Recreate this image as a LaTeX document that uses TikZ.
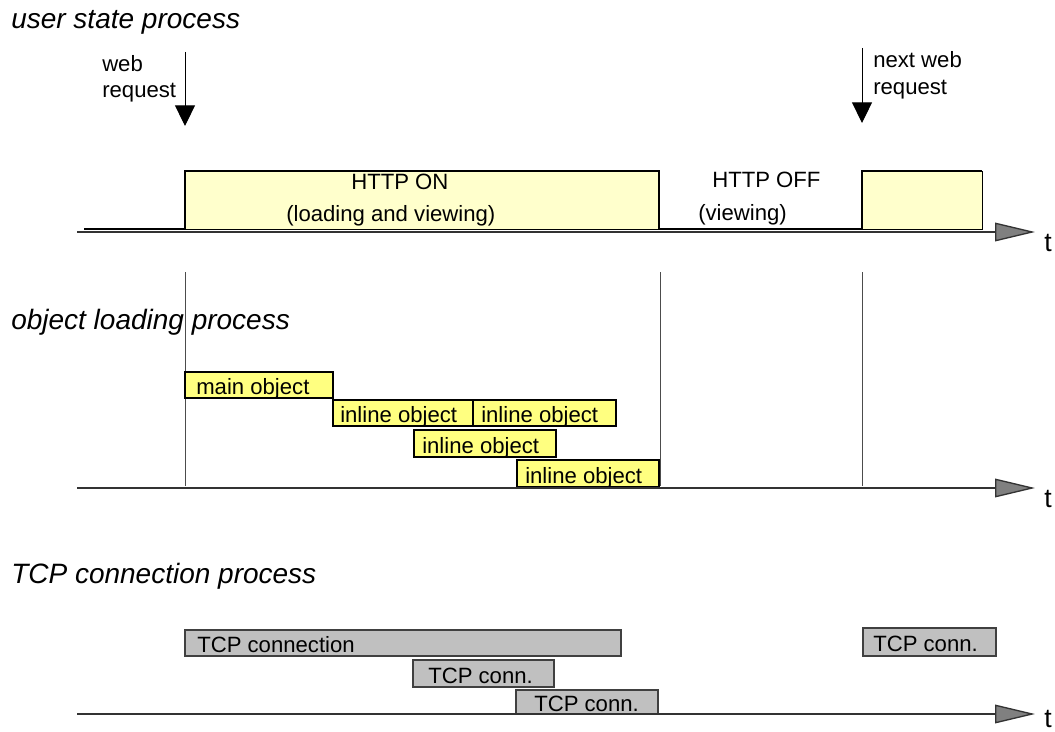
\documentclass[tikz,border=0pt]{standalone}
\usepackage{fontspec}
\setmainfont{Liberation Sans}
\usetikzlibrary{arrows.meta,fit}
\definecolor{httpfill}{HTML}{FFFFCC}
\definecolor{objfill}{HTML}{FFFF80}
\definecolor{tcpfill}{HTML}{C0C0C0}
\begin{document}
\begin{tikzpicture}[x=0.75pt,y=-0.75pt,
  lbl/.style={font=\fontsize{16.6}{20}\selectfont, inner sep=0, anchor=base west},
  tlbl/.style={font=\fontsize{20}{24}\selectfont, inner sep=0, anchor=base west},
  ttl/.style={font=\fontsize{21}{25}\selectfont\itshape, inner sep=0, anchor=base west},
  httpbox/.style={fill=httpfill, draw=black, line width=0.75pt, inner sep=0},
  signal/.style={line width=1.5pt, line join=miter},
  objbox/.style={fill=objfill, draw=black, line width=1.3pt, inner sep=0},
  tcpbox/.style={fill=tcpfill, draw=black!75, line width=0.9pt, inner sep=0},
  axisline/.style={line width=1pt, draw=black!80, -{Triangle[length=30pt, width=14pt, fill=black!50]}},
  reqarrow/.style={line width=0.75pt, -{Triangle[length=15.5pt, width=15pt]}},
  divider/.style={line width=0.75pt, draw=black!70}]
\useasboundingbox (0,0) rectangle (1055,731);

% ---------- user state process ----------
\node[ttl] (t1) at (11,29) {user state process};

\coordinate (r1top) at (185,52);
\coordinate (r1tip) at (185,126);
\draw[reqarrow] (r1top) -- (r1tip);
\node[lbl] (web1) at (102,72) {web};
\node[lbl] (req1) at (102,98) {request};

\coordinate (r2top) at (862,48);
\coordinate (r2tip) at (862,123);
\draw[reqarrow] (r2top) -- (r2tip);
\node[lbl] (web2) at (873,68) {next web};
\node[lbl] (req2) at (873,95) {request};

\node[httpbox, fit={(185,171) (659,229)}] (on) {};
\node[httpbox, fit={(862,171) (982,229)}] (next) {};
\draw[signal] (84,229) -- (185,229) -- (185,171) -- (659,171) -- (659,229)
  -- (862,229) -- (862,171) -- (982,171);

\node[lbl] (onA) at (351,189) {HTTP ON};
\node[lbl] (onB) at (286,221) {(loading and viewing)};
\node[lbl] (offA) at (712,187) {HTTP OFF};
\node[lbl] (offB) at (698,220) {(viewing)};

\coordinate (a1s) at (77,232);
\coordinate (a1e) at (1035,232);
\draw[axisline] (a1s) -- (a1e);
\node[tlbl] (tt1) at (1044,251) {t};

% dividers
\coordinate (d1a) at (185,272); \coordinate (d1b) at (185,486);
\coordinate (d2a) at (660,272); \coordinate (d2b) at (660,486);
\coordinate (d3a) at (862,272); \coordinate (d3b) at (862,486);
\draw[divider] (d1a) -- (d1b);
\draw[divider] (d2a) -- (d2b);
\draw[divider] (d3a) -- (d3b);

% ---------- object loading process ----------
\node[ttl] (t2) at (11,329) {object loading process};

\node[objbox, fit={(185,372) (333,398)}] (o1) {};
\node[objbox, fit={(333,400) (473,426)}] (o2) {};
\node[objbox, fit={(473,400) (616,426)}] (o3) {};
\node[objbox, fit={(414,430) (556,457)}] (o4) {};
\node[objbox, fit={(517,460) (659,487)}] (o5) {};
\node[lbl] (o1t) at (196,394) {main object};
\node[lbl] (o2t) at (340,422) {inline object};
\node[lbl] (o3t) at (481,422) {inline object};
\node[lbl] (o4t) at (422,453) {inline object};
\node[lbl] (o5t) at (525,483) {inline object};

\coordinate (a2s) at (77,488);
\coordinate (a2e) at (1035,488);
\draw[axisline] (a2s) -- (a2e);
\node[tlbl] (tt2) at (1044,507) {t};

% ---------- TCP connection process ----------
\node[ttl] (t3) at (11,583) {TCP connection process};

\node[tcpbox, fit={(185,630) (621,656)}] (c1) {};
\node[tcpbox, fit={(413,660) (554,687)}] (c2) {};
\node[tcpbox, fit={(516,690) (658,714)}] (c3) {};
\node[tcpbox, fit={(863,628) (996,656)}] (c4) {};
\node[lbl] (c1t) at (197,652) {TCP connection};
\node[lbl] (c2t) at (428,683) {TCP conn.};
\node[lbl] (c3t) at (534,711) {TCP conn.};
\node[lbl] (c4t) at (873,651) {TCP conn.};

\coordinate (a3s) at (77,714);
\coordinate (a3e) at (1035,714);
\draw[axisline] (a3s) -- (a3e);
\node[tlbl] (tt3) at (1044,727) {t};
\end{tikzpicture}
\end{document}
